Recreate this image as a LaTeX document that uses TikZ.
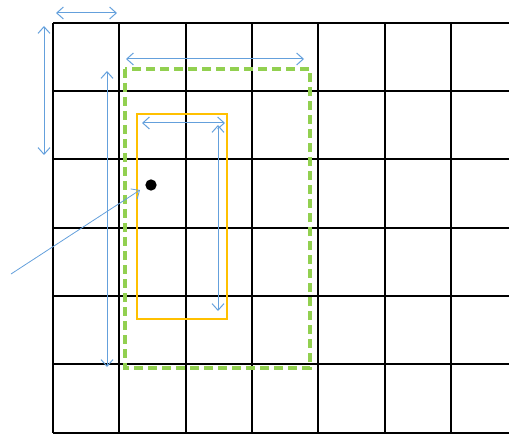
\documentclass[tikz,border=0pt]{standalone}
\usetikzlibrary{arrows.meta}
\definecolor{gridblack}{RGB}{0,0,0}
\definecolor{dimblue}{RGB}{100,160,220}
\definecolor{boxgreen}{RGB}{146,208,80}
\definecolor{boxorange}{RGB}{255,192,0}
\tikzset{
  gridline/.style={gridblack, line width=1.7pt},
  dimarrow/.style={dimblue, line width=0.75pt, {Straight Barb[length=5pt,width=9pt]}-{Straight Barb[length=5pt,width=9pt]}},
  onearrow/.style={dimblue, line width=0.6pt, -{Straight Barb[length=5pt,width=9pt]}},
  greenbox/.style={boxgreen, line width=2.4pt, dash pattern=on 6.5pt off 4pt},
  orangebox/.style={boxorange, line width=1.7pt},
  dot/.style={circle, fill=black, inner sep=0pt, minimum size=8.5pt}
}
\begin{document}
\begin{tikzpicture}[x=0.75pt,y=-0.75pt]
\useasboundingbox (0,0) rectangle (509,434);
\begin{scope}
\clip (0,0) rectangle (509,434);
\foreach \x in {53,119,186,252,318,385,451}
  \draw[gridline] (\x,23) -- (\x,433);
\foreach \y in {23,91,159,228,296,364,433}
  \draw[gridline] (53,\y) -- (515,\y);
\end{scope}
% green dashed box
\draw[greenbox] (125,69) rectangle (310,368);
% orange box
\draw[orangebox] (137,114) rectangle (227,319);
% dot
\node[dot] (pt) at (151,185) {};
% dimension arrows
\coordinate (a1s) at (56,13);  \coordinate (a1e) at (117,13);
\coordinate (a2s) at (44,26);  \coordinate (a2e) at (44,155);
\coordinate (a3s) at (107,71); \coordinate (a3e) at (107,367);
\coordinate (a4s) at (126,59); \coordinate (a4e) at (304,59);
\coordinate (a5s) at (142,123); \coordinate (a5e) at (225,123);
\coordinate (a6s) at (218,125); \coordinate (a6e) at (218,311);
\coordinate (a7s) at (11,274); \coordinate (a7e) at (140,190);
\draw[dimarrow] (a1s) -- (a1e);
\draw[dimarrow] (a2s) -- (a2e);
\draw[dimarrow] (a3s) -- (a3e);
\draw[dimarrow] (a4s) -- (a4e);
\draw[dimarrow] (a5s) -- (a5e);
\draw[dimarrow] (a6s) -- (a6e);
\draw[onearrow] (a7s) -- (a7e);
\end{tikzpicture}
\end{document}
